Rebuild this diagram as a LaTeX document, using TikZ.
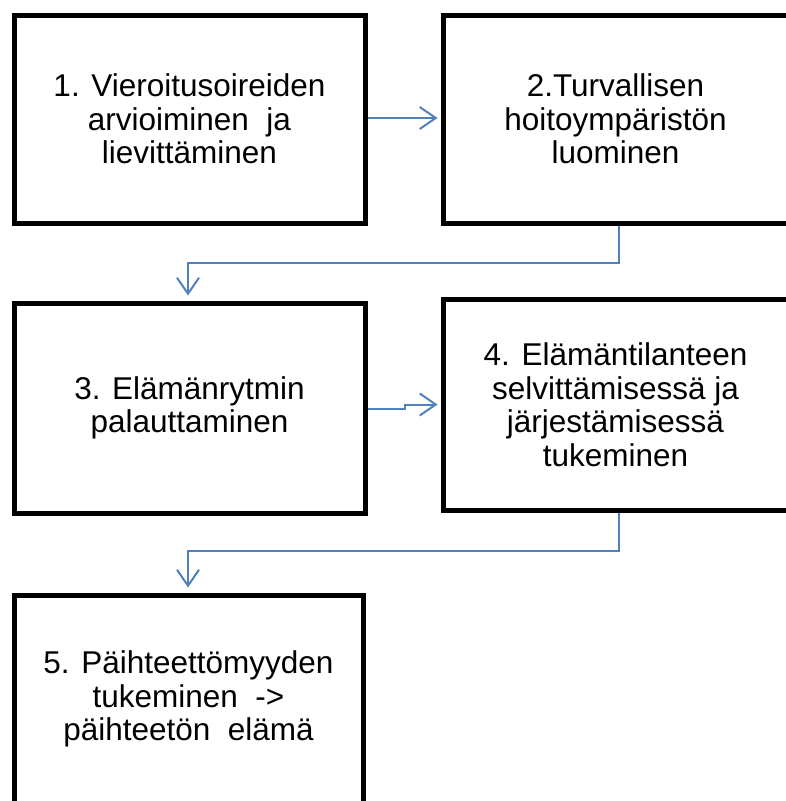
\documentclass[tikz,border=0pt]{standalone}
\usepackage{fontspec}
\setmainfont{Liberation Sans}
\usetikzlibrary{arrows.meta}
\definecolor{linkblue}{RGB}{79,129,189}
\begin{document}
\begin{tikzpicture}[x=1pt,y=-1pt,
    phase/.style={draw=black,line width=5pt,rectangle,align=center,
      font=\fontsize{31.5}{33.5}\selectfont,inner sep=0pt},
    link/.style={draw=linkblue,line width=2pt,
      -{Straight Barb[length=16pt,width=22pt]},shorten >=3pt}]
    \clip (0,0) rectangle (786,801);
    \useasboundingbox (0,0) rectangle (786,801);
    \node[phase,minimum width=351,minimum height=208] (box1) at (189.5,119)
      {1. Vieroitusoireiden\\arvioiminen\ \ ja\\lievittäminen};
    \node[phase,minimum width=345,minimum height=208] (box2) at (615.5,119)
      {2.Turvallisen\\hoitoympäristön\\luominen};
    \node[phase,minimum width=351,minimum height=210] (box3) at (189.5,408)
      {3. Elämänrytmin\\palauttaminen};
    \node[phase,minimum width=345,minimum height=211] (box4) at (615.5,404.5)
      {4. Elämäntilanteen\\selvittämisessä ja\\järjestämisessä\\tukeminen};
    \node[phase,minimum width=349,minimum height=208] (box5) at (188.5,699)
      {5. Päihteettömyyden\\tukeminen\ \ ->\\päihteetön\ \ elämä};
    \coordinate (bend1) at (188,263);
    \coordinate (bend2) at (188,551);
    \draw[link] (box1.east |- 0,118) -- (box2.west |- 0,118);
    \draw[link,shorten >=5pt] ([xshift=3.5]box2.south) |- (bend1) -- (bend1 |- box3.north);
    \draw[link] (box3.east |- 0,409) -- (405,409) |- (box4.west);
    \draw[link,shorten >=5pt] ([xshift=3.5]box4.south) |- (bend2) -- (bend2 |- box5.north);
  \end{tikzpicture}
\end{document}
